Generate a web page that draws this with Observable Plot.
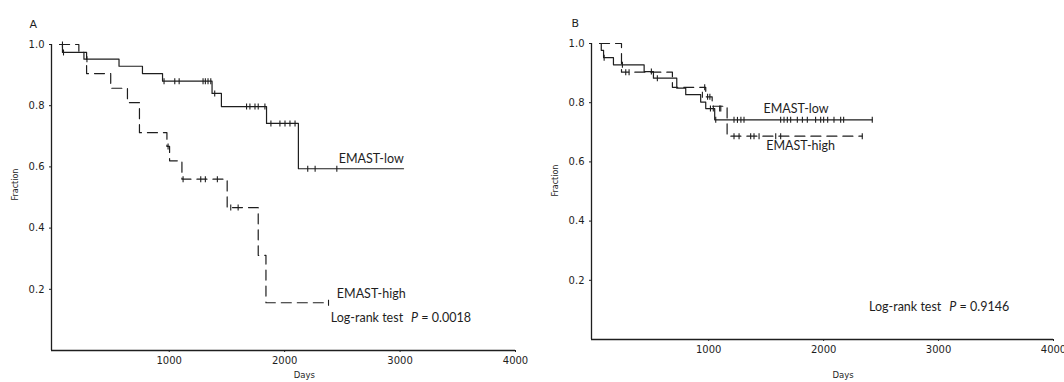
<!DOCTYPE html>
<html>
<head>
<meta charset="utf-8">
<script src="https://cdn.jsdelivr.net/npm/d3@7"></script>
<script src="https://cdn.jsdelivr.net/npm/@observablehq/plot@0.6"></script>
<style>
  body { margin: 0; background: #fff; }
  #wrap { display: flex; width: 1064px; height: 382px; }
  svg { overflow: visible; }
</style>
</head>
<body>
<div id="wrap"></div>
<script>
// ---------- Panel A ----------
const aLowDays  = [50, 75, 261, 565, 768, 942, 1371, 1452, 1843, 2119, 3030];
const aLowSurv  = [1.0, 0.974, 0.952, 0.929, 0.905, 0.88, 0.84, 0.797, 0.742, 0.594, 0.594];
const aLowCensDays = [84, 287, 955, 1048, 1086, 1293, 1313, 1336, 1360, 1394, 1670, 1699, 1743, 1771, 1829, 1881, 1959, 2003, 2046, 2090, 2200, 2264, 2452];
const aLowCensSurv = [0.974, 0.952, 0.88, 0.88, 0.88, 0.88, 0.88, 0.88, 0.88, 0.84, 0.797, 0.797, 0.797, 0.797, 0.797, 0.742, 0.742, 0.742, 0.742, 0.742, 0.594, 0.594, 0.594];

const aHighDays = [50, 217, 284, 493, 638, 742, 980, 1003, 1110, 1502, 1771, 1838, 2380];
const aHighSurv = [1.0, 0.974, 0.905, 0.857, 0.81, 0.712, 0.667, 0.62, 0.56, 0.467, 0.311, 0.156, 0.156];
const aHighCensDays = [75, 990, 1120, 1273, 1313, 1417, 1533, 1597, 2380];
const aHighCensSurv = [1.0, 0.667, 0.56, 0.56, 0.56, 0.56, 0.467, 0.467, 0.156];

// ---------- Panel B ----------
const bLowDays = [50, 65, 85, 171, 438, 519, 722, 800, 930, 974, 1052, 2423];
const bLowSurv = [1.0, 0.977, 0.952, 0.928, 0.905, 0.883, 0.849, 0.827, 0.802, 0.78, 0.742, 0.742];
const bLowCensDays = [90, 249, 501, 553, 945, 1015, 1040, 1095, 1105, 1061, 1220, 1250, 1280, 1307, 1626, 1655, 1684, 1713, 1771, 1815, 1858, 1930, 1974, 2000, 2035, 2090, 2148, 2174, 2423];
const bLowCensSurv = [0.952, 0.928, 0.905, 0.883, 0.827, 0.78, 0.78, 0.78, 0.78, 0.742, 0.742, 0.742, 0.742, 0.742, 0.742, 0.742, 0.742, 0.742, 0.742, 0.742, 0.742, 0.742, 0.742, 0.742, 0.742, 0.742, 0.742, 0.742, 0.742];

const bHighDays = [50, 241, 684, 974, 1030, 1160, 2336];
const bHighSurv = [1.0, 0.903, 0.852, 0.82, 0.788, 0.687, 0.687];
const bHighCensDays = [278, 307, 965, 990, 1010, 1220, 1264, 1365, 1394, 1438, 1583, 1626, 2336];
const bHighCensSurv = [0.903, 0.903, 0.852, 0.82, 0.82, 0.687, 0.687, 0.687, 0.687, 0.687, 0.687, 0.687, 0.687];

// ---------- ticks & labels ----------
const xTicks = [1000, 2000, 3000, 4000];
const yTicks = [0.2, 0.4, 0.6, 0.8, 1.0];
const groupLabels = ["EMAST-low", "EMAST-high"];
const pValues = ["0.0018", "0.9146"];
const panelTitles = ["A", "B"];

const zip = (xs, ys) => xs.map((d, i) => ({day: d, surv: ys[i]}));

const censorSymbol = {
  draw(context) { context.moveTo(0, -3); context.lineTo(0, 3); }
};

const INK = "#1e1e1e";

function panel(cfg) {
  const {title, low, high, lowC, highC, pval, lowLab, highLab, pLab, m, width} = cfg;
  const svg = Plot.plot({
    width: width,
    height: 382,
    marginLeft: m.left, marginRight: m.right, marginTop: m.top, marginBottom: m.bottom,
    style: {fontFamily: "DejaVu Sans, sans-serif", fontSize: "10px", color: INK, background: "transparent"},
    x: {domain: [-20, 4000], ticks: xTicks, tickSize: 2, tickPadding: 4, tickFormat: d => String(d), label: null},
    y: {domain: [0, 1], ticks: yTicks, tickSize: 2, tickPadding: 5, tickFormat: d3.format(".1f"), label: null},
    marks: [
      Plot.ruleX([-20], {y1: 0, y2: 1, stroke: INK, strokeWidth: 1.3}),
      Plot.ruleY([0], {x1: -20, x2: 4000, stroke: INK, strokeWidth: 1.3}),
      Plot.line(low, {x: "day", y: "surv", curve: "step-after", stroke: INK, strokeWidth: 1.2}),
      Plot.line(high, {x: "day", y: "surv", curve: "step-after", stroke: INK, strokeWidth: 1.2, strokeDasharray: "10,6"}),
      Plot.dot(lowC, {x: "day", y: "surv", symbol: censorSymbol, stroke: INK, fill: "none", strokeWidth: 1.1}),
      Plot.dot(highC, {x: "day", y: "surv", symbol: censorSymbol, stroke: INK, fill: "none", strokeWidth: 1.1}),
      Plot.text([groupLabels[0]], {x: lowLab[0], y: lowLab[1], text: d => d, fontFamily: "Lato, sans-serif", fontSize: 12.5, fill: INK, textAnchor: "middle"}),
      Plot.text([groupLabels[1]], {x: highLab[0], y: highLab[1], text: d => d, fontFamily: "Lato, sans-serif", fontSize: 12.5, fill: INK, textAnchor: "middle"}),
      Plot.text(["Log-rank test P = " + pval], {x: pLab[0], y: pLab[1], text: d => d, fontFamily: "Lato, sans-serif", fontSize: 12.5, fill: INK, textAnchor: "start"}),
      Plot.text(["Days"], {x: 2170, frameAnchor: "bottom", dy: m.daysDy, text: d => d, fontFamily: "DejaVu Sans, sans-serif", fontSize: 8.5, fill: INK}),
      Plot.text(["Fraction"], {frameAnchor: "left", dx: -36, dy: m.fracDy, rotate: -90, text: d => d, fontFamily: "DejaVu Sans, sans-serif", fontSize: 8, fill: INK}),
      Plot.text([title], {frameAnchor: "top-left", dx: m.titleDx, dy: -24, text: d => d, fontFamily: "DejaVu Sans, sans-serif", fontSize: 11, fill: INK, textAnchor: "start"})
    ]
  });
  // italic P in the log-rank annotation
  d3.select(svg).selectAll("text").each(function() {
    const t = this.textContent;
    if (t.startsWith("Log-rank test P = ")) {
      const sel = d3.select(this);
      sel.text(null);
      sel.append("tspan").text("Log-rank test");
      sel.append("tspan").attr("dx", 8).attr("font-style", "italic").text("P");
      sel.append("tspan").text(" = " + pval);
    }
  });
  return svg;
}

const wrap = document.getElementById("wrap");
wrap.appendChild(panel({
  title: panelTitles[0],
  low: zip(aLowDays, aLowSurv), high: zip(aHighDays, aHighSurv),
  lowC: zip(aLowCensDays, aLowCensSurv), highC: zip(aHighCensDays, aHighCensSurv),
  pval: pValues[0],
  lowLab: [2750, 0.627], highLab: [2750, 0.186], pLab: [2400, 0.105],
  m: {left: 51, right: 17, top: 44, bottom: 32, daysDy: 27, fracDy: 3, titleDx: -22},
  width: 532
}));
wrap.appendChild(panel({
  title: panelTitles[1],
  low: zip(bLowDays, bLowSurv), high: zip(bHighDays, bHighSurv),
  lowC: zip(bLowCensDays, bLowCensSurv), highC: zip(bHighCensDays, bHighCensSurv),
  pval: pValues[1],
  lowLab: [1760, 0.78], highLab: [1800, 0.655], pLab: [2395, 0.111],
  m: {left: 59, right: 11, top: 43, bottom: 43, daysDy: 38, fracDy: 5, titleDx: -20},
  width: 532
}));
</script>
</body>
</html>
